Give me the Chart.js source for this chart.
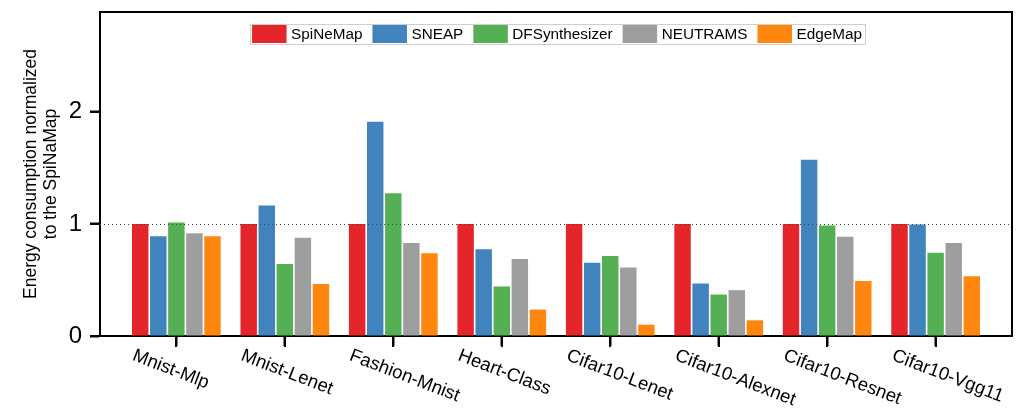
<!DOCTYPE html>
<html><head><meta charset="utf-8">
<script src="https://cdn.jsdelivr.net/npm/chart.js@4.4.0/dist/chart.umd.min.js"></script>
<style>html,body{margin:0;padding:0;background:#fff}#wrap{width:1016px;height:412px}</style>
</head><body><div id="wrap"><canvas id="c" width="1016" height="412"></canvas></div>
<script>
const categories = ['Mnist-Mlp','Mnist-Lenet','Fashion-Mnist','Heart-Class','Cifar10-Lenet','Cifar10-Alexnet','Cifar10-Resnet','Cifar10-Vgg11'];
const seriesNames = ['SpiNeMap','SNEAP','DFSynthesizer','NEUTRAMS','EdgeMap'];
const spinemap = [1.0, 1.0, 1.0, 1.0, 1.0, 1.0, 1.0, 1.0];
const sneap    = [0.889, 1.164, 1.910, 0.773, 0.654, 0.469, 1.573, 0.995];
const dfsynth  = [1.012, 0.642, 1.274, 0.442, 0.713, 0.370, 0.985, 0.743];
const neutrams = [0.916, 0.877, 0.830, 0.687, 0.612, 0.409, 0.886, 0.830];
const edgemap  = [0.889, 0.463, 0.737, 0.236, 0.101, 0.140, 0.490, 0.534];
const yTicks = [0, 1, 2];
const yTitle = ['Energy consumption normalized', 'to the SpiNaMap'];
const colors = ['#e4262b', '#4183bc', '#55b054', '#9e9e9e', '#ff860f'];
const seriesValues = [spinemap, sneap, dfsynth, neutrams, edgemap];

const FONT = '"Liberation Sans", Arial, Helvetica, sans-serif';
Chart.defaults.font.family = FONT;
Chart.defaults.color = '#000';

const refLine = {
  id: 'refLine',
  afterDatasetsDraw(chart) {
    const {ctx, chartArea: a, scales: {y}} = chart;
    const py = Math.round(y.getPixelForValue(1)) + 0.5;
    ctx.save();
    ctx.strokeStyle = '#444';
    ctx.lineWidth = 1;
    ctx.setLineDash([1, 3]);
    ctx.beginPath(); ctx.moveTo(a.left, py); ctx.lineTo(a.right, py); ctx.stroke();
    ctx.restore();
  }
};

const frameLegendLabels = {
  id: 'frameLegendLabels',
  afterDraw(chart) {
    const {ctx, chartArea: a, scales: {x, y}} = chart;
    ctx.save();
    ctx.setLineDash([]);
    ctx.strokeStyle = '#000'; ctx.lineWidth = 2;
    ctx.beginPath();
    ctx.moveTo(a.left, a.top); ctx.lineTo(a.right, a.top); ctx.lineTo(a.right, a.bottom);
    ctx.stroke();
    // tick marks (outward)
    ctx.fillStyle = '#000';
    categories.forEach((_, i) => {
      const px = Math.round(x.getPixelForValue(i));
      ctx.fillRect(px - 1, a.bottom, 2, 11);
    });
    yTicks.forEach(v => {
      const py = Math.round(y.getPixelForValue(v));
      ctx.fillRect(a.left - 10, py - 1, 10, 2);
    });
    // x tick labels rotated clockwise
    const fs = 18.5;
    ctx.font = fs + 'px ' + FONT;
    ctx.textAlign = 'left'; ctx.textBaseline = 'alphabetic';
    const ang = 21 * Math.PI / 180;
    categories.forEach((lab, i) => {
      const px = x.getPixelForValue(i);
      ctx.save();
      ctx.translate(px - 40, a.bottom + 11.5);
      ctx.rotate(ang);
      ctx.fillText(lab, 0, 0.716 * fs);
      ctx.restore();
    });
    // legend
    ctx.font = '15.3px ' + FONT;
    const boxW = 34.5, boxH = 18, gapT = 4.5, gapI = 10, pad = 2.5;
    const widths = chart.data.datasets.map(d => ctx.measureText(d.label).width);
    let total = pad * 2 + widths.reduce((s, w) => s + w, 0) + widths.length * (boxW + gapT) + (widths.length - 1) * gapI;
    const cx = (a.left + a.right) / 2 + 1;
    const lx = cx - total / 2, ly = a.top + 12, lh = 20;
    ctx.fillStyle = '#fff';
    ctx.fillRect(lx, ly, total, lh);
    ctx.strokeStyle = '#cfcfcf'; ctx.lineWidth = 1;
    ctx.strokeRect(Math.round(lx) + 0.5, Math.round(ly) + 0.5, Math.round(total), lh);
    let cur = lx + pad;
    ctx.textBaseline = 'middle';
    chart.data.datasets.forEach((d, i) => {
      ctx.fillStyle = d.backgroundColor;
      ctx.fillRect(cur, ly + 1, boxW, boxH);
      cur += boxW + gapT;
      ctx.fillStyle = '#000';
      ctx.fillText(d.label, cur, ly + lh / 2 + 1);
      cur += widths[i] + gapI;
    });
    ctx.restore();
  }
};

function axisCommon() {
  return {
    grid: {display: true, drawOnChartArea: false, drawTicks: true, tickLength: 10, tickWidth: 2, tickColor: '#000', offset: false},
    border: {display: true, color: '#000', width: 2}
  };
}
function zeroPad(s) { s.paddingTop = 0; s.paddingBottom = 0; s.paddingLeft = 0; s.paddingRight = 0; }

new Chart(document.getElementById('c'), {
  type: 'bar',
  data: {
    datasets: seriesNames.map((name, k) => ({
      label: name,
      data: seriesValues[k].map((v, i) => ({x: i, y: v})),
      backgroundColor: colors[k],
      borderWidth: 0,
      categoryPercentage: 0.833,
      barPercentage: 0.91
    }))
  },
  options: {
    responsive: false,
    animation: false,
    devicePixelRatio: 1,
    layout: {padding: {top: 12, right: 4, left: 0, bottom: 0}},
    plugins: {legend: {display: false}, tooltip: {enabled: false}},
    scales: {
      x: Object.assign(axisCommon(), {
        type: 'linear', min: -0.704, max: 7.704, offset: false,
        afterBuildTicks: s => { s.ticks = categories.map((_, i) => ({value: i})); },
        afterFit: s => { s.height = 76; zeroPad(s); },
        ticks: {callback: () => '', autoSkip: false, maxRotation: 0}
      }),
      y: Object.assign(axisCommon(), {
        min: 0, max: 2.89,
        afterBuildTicks: s => { s.ticks = yTicks.map(v => ({value: v})); },
        afterFit: s => { s.width = 100; zeroPad(s); },
        ticks: {font: {size: 24}, color: '#000', padding: 8, callback: v => String(v)},
        title: {display: true, text: yTitle, color: '#000', font: {size: 17.5, lineHeight: 1.15}, padding: {top: 21, bottom: 0}}
      })
    }
  },
  plugins: [refLine, frameLegendLabels]
});
</script>
</body></html>
